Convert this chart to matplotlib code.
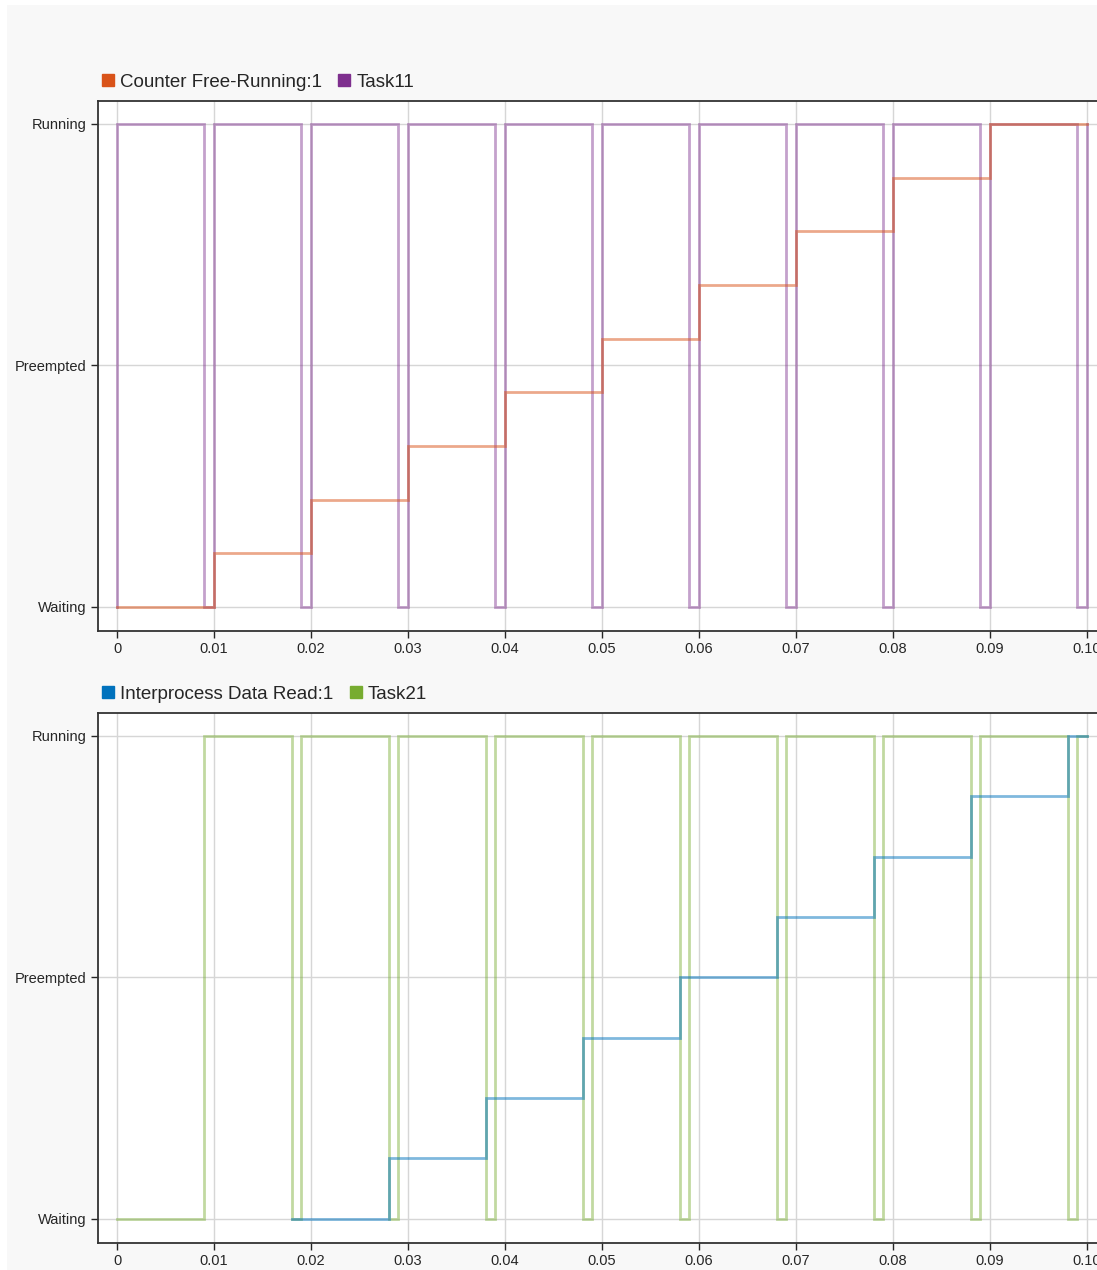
import matplotlib.pyplot as plt
from matplotlib.lines import Line2D
from matplotlib.patches import Rectangle

plt.rcParams['font.family'] = ['Liberation Sans', 'DejaVu Sans']

# Task states on the y axis
state_labels = ['Waiting', 'Preempted', 'Running']

# Task11 (runs every 0.01 s, preempted for the last 1 ms of each period)
task11_times = [0.0, 0.0, 0.009, 0.010, 0.019, 0.020, 0.029, 0.030, 0.039, 0.040,
                0.049, 0.050, 0.059, 0.060, 0.069, 0.070, 0.079, 0.080, 0.089,
                0.090, 0.099, 0.100]
task11_states = [0, 2, 0, 2, 0, 2, 0, 2, 0, 2, 0, 2, 0, 2, 0, 2, 0, 2, 0, 2, 0, 2]

# Counter Free-Running:1 output
counter_times = [0.0, 0.01, 0.02, 0.03, 0.04, 0.05, 0.06, 0.07, 0.08, 0.09, 0.10]
counter_values = [0, 1, 2, 3, 4, 5, 6, 7, 8, 9, 9]

# Task21
task21_times = [0.0, 0.009, 0.018, 0.019, 0.028, 0.029, 0.038, 0.039, 0.048,
                0.049, 0.058, 0.059, 0.068, 0.069, 0.078, 0.079, 0.088, 0.089,
                0.098, 0.099, 0.100]
task21_states = [0, 2, 0, 2, 0, 2, 0, 2, 0, 2, 0, 2, 0, 2, 0, 2, 0, 2, 0, 2, 2]

# Interprocess Data Read:1 output
read_times = [0.018, 0.028, 0.038, 0.048, 0.058, 0.068, 0.078, 0.088, 0.098, 0.100]
read_values = [0, 1, 2, 3, 4, 5, 6, 7, 8, 8]

x_ticks = [0.0, 0.01, 0.02, 0.03, 0.04, 0.05, 0.06, 0.07, 0.08, 0.09, 0.10]
x_tick_labels = ['0', '0.01', '0.02', '0.03', '0.04', '0.05', '0.06', '0.07',
                 '0.08', '0.09', '0.10']

panels = [
    dict(task_name='Task11', task_t=task11_times, task_s=task11_states,
         task_color='#7E2F8E', sig_name='Counter Free-Running:1',
         sig_t=counter_times, sig_v=counter_values, sig_color='#D95319'),
    dict(task_name='Task21', task_t=task21_times, task_s=task21_states,
         task_color='#77AC30', sig_name='Interprocess Data Read:1',
         sig_t=read_times, sig_v=read_values, sig_color='#0072BD'),
]

W, H = 1097, 1270
fig = plt.figure(figsize=(W / 100, H / 100), dpi=100, facecolor='white')
fig.patches.append(Rectangle((7 / W, 0), 1, 1 - 5 / H, transform=fig.transFigure,
                             facecolor='#f8f8f8', edgecolor='none', zorder=-10))

ax_left, ax_w, ax_h = 98 / W, 1002 / W, 530 / H
bottoms = [639 / H, 27 / H]

for p, bot in zip(panels, bottoms):
    ax = fig.add_axes([ax_left, bot, ax_w, ax_h])
    ax.set_facecolor('white')
    ax.set_xlim(-0.00196, 0.10134)
    ax.set_ylim(-0.1, 2.095)
    ax.set_yticks([0, 1, 2])
    ax.set_yticklabels(state_labels)
    ax.set_xticks(x_ticks)
    ax.set_xticklabels(x_tick_labels)
    ax.grid(True, color='#d6d6d6', linewidth=1)
    ax.set_axisbelow(True)
    ax.tick_params(labelsize=10.5, labelcolor='#262626', color='#262626',
                   length=5, width=1)
    ax.tick_params(axis='y', pad=3)
    ax.tick_params(axis='x', pad=3)
    for s in ['left', 'bottom', 'top']:
        ax.spines[s].set_color('#333333')
        ax.spines[s].set_linewidth(1.3)
    ax.spines['right'].set_visible(False)

    # signal values on their own scale, top step level aligned with Running
    top = max(p['sig_v'])
    unit = top / 2
    ax2 = ax.twinx()
    ax2.set_ylim(-0.1 * unit, top + 0.095 * unit)
    ax2.set_axis_off()

    ax.step(p['task_t'], p['task_s'], where='post', color=p['task_color'],
            alpha=0.45, linewidth=2, solid_joinstyle='miter')
    ax2.step(p['sig_t'], p['sig_v'], where='post', color=p['sig_color'],
             alpha=0.5, linewidth=2, solid_joinstyle='miter')

    handles = [Line2D([], [], linestyle='none', marker='s', markersize=9,
                      color=p['sig_color'], label=p['sig_name']),
               Line2D([], [], linestyle='none', marker='s', markersize=9,
                      color=p['task_color'], label=p['task_name'])]
    ax.legend(handles=handles, loc='lower left', bbox_to_anchor=(0.004, 1.019),
              ncol=2, frameon=False, fontsize=13.5, handlelength=0.6,
              handletextpad=0.35, columnspacing=0.9, borderpad=0,
              borderaxespad=0, labelcolor='#262626')

fig.savefig('out.png', dpi=100, facecolor=fig.get_facecolor())
